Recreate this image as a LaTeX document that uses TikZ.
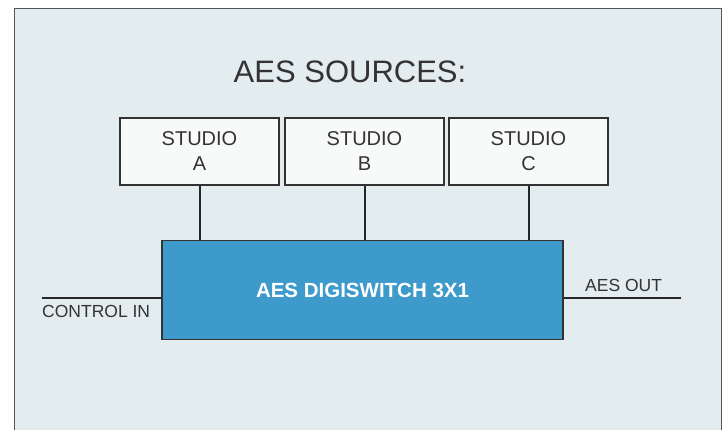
\documentclass[tikz,border=0pt]{standalone}
\usepackage{fontspec}
\setmainfont{Liberation Sans}
\definecolor{bgc}{HTML}{E3ECEF}
\definecolor{framec}{HTML}{555555}
\definecolor{boxfill}{HTML}{F8F9F9}
\definecolor{mainfill}{HTML}{3E9ACB}
\definecolor{txtc}{HTML}{333333}
\begin{document}
\begin{tikzpicture}[x=1pt,y=-1pt,
  studiobox/.style={draw=txtc,line width=1.1pt,fill=boxfill,minimum width=159pt,minimum height=67pt,inner sep=0pt,
    text=txtc,font=\fontsize{20}{25}\selectfont,align=center},
  mainbox/.style={draw=txtc,line width=1.1pt,fill=mainfill,minimum width=401pt,minimum height=99pt,inner sep=0pt,
    text=white,font=\bfseries\fontsize{20.5}{24}\selectfont},
  wire/.style={draw=black!85,line width=2pt},
  lbl/.style={text=txtc,inner sep=0pt,font=\fontsize{17.5}{20}\selectfont}]
\useasboundingbox (0,0) rectangle (722,430);
\fill[white] (0,0) rectangle (722,430);
\begin{scope}
\clip (0,0) rectangle (722,430);
\filldraw[fill=bgc,draw=framec,line width=1pt] (14,8.5) rectangle (721,440);
\end{scope}
\node[text=txtc,font=\fontsize{31}{36}\selectfont] (title) at (350,72) {AES SOURCES:};
\node[studiobox] (sa) at (199.5,151.5) {STUDIO\\A};
\node[studiobox] (sb) at (364.5,151.5) {STUDIO\\B};
\node[studiobox] (sc) at (528.5,151.5) {STUDIO\\C};
\node[mainbox] (sw) at (362.5,290) {AES DIGISWITCH 3X1};
\coordinate (cin) at (42,298);
\coordinate (aout) at (681,298);
\draw[wire] (sa.south) -- (sa.south |- sw.north);
\draw[wire] (sb.south) -- (sb.south |- sw.north);
\draw[wire] (sc.south) -- (sc.south |- sw.north);
\draw[wire] (cin) -- (cin -| sw.west);
\draw[wire] (aout -| sw.east) -- (aout);
\node[lbl,anchor=north west] (cinl) at (42,305) {CONTROL IN};
\node[lbl,anchor=south west] (aoutl) at (585,292) {AES OUT};
\end{tikzpicture}
\end{document}
